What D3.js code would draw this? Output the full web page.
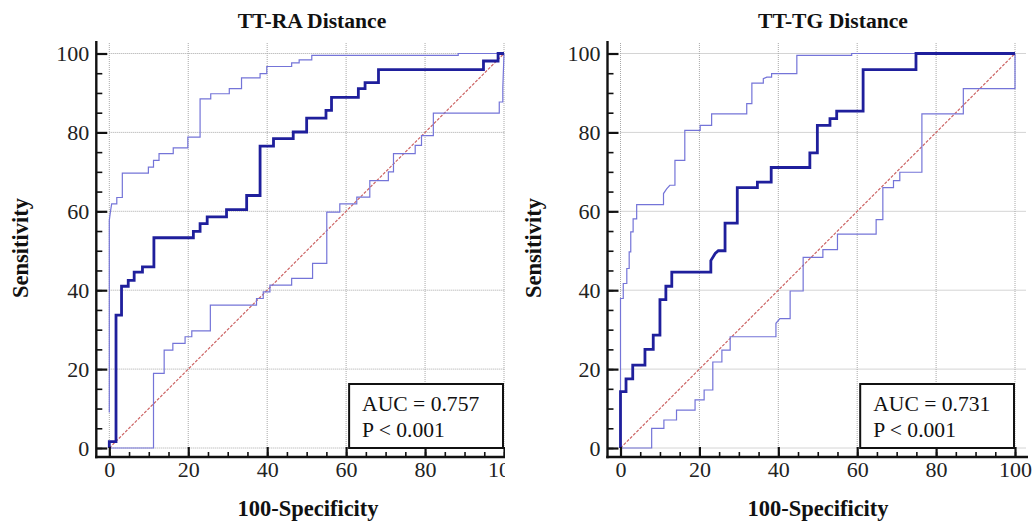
<!DOCTYPE html>
<html><head><meta charset="utf-8">
<script src="https://cdn.jsdelivr.net/npm/d3@7"></script>
<style>body{margin:0;background:#fff}svg{display:block}</style>
</head><body>
<svg id="c" width="1032" height="521"></svg>
<script>
// ---------- data ----------
const panelTitles = ["TT-RA Distance", "TT-TG Distance"];
const aucLabels = ["AUC = 0.757", "AUC = 0.731"];
const pLabels = ["P < 0.001", "P < 0.001"];
const xTicks = [0, 20, 40, 60, 80, 100];
const yTicks = [0, 20, 40, 60, 80, 100];
const xTitle = "100-Specificity";
const yTitle = "Sensitivity";
const diagonal = [[0, 0], [100, 100]];

// TT-RA: ROC curve and 95% confidence bounds  [100-Specificity, Sensitivity]
const raROC = [[0,0],[0,1.6],[1.7,1.6],[1.7,33.7],[3.1,33.7],[3.1,41.0],[4.8,41.0],[4.8,42.5],[6.3,42.5],[6.3,44.6],[8.4,44.6],[8.4,45.9],[11.3,45.9],[11.3,53.3],[21.3,53.3],[21.3,54.9],[23.0,54.9],[23.0,56.9],[24.8,56.9],[24.8,58.6],[29.7,58.6],[29.7,60.4],[34.8,60.4],[34.8,64.0],[38.2,64.0],[38.2,76.5],[41.6,76.5],[41.6,78.4],[46.6,78.4],[46.6,80.1],[50.0,80.1],[50.0,83.6],[54.9,83.6],[54.9,85.6],[56.3,85.6],[56.3,88.9],[63.1,88.9],[63.1,91.1],[64.8,91.1],[64.8,92.6],[68.2,92.6],[68.2,95.9],[94.8,95.9],[94.8,98.1],[98.5,98.1],[98.5,100],[100,100]];
const raUpper = [[0,9],[0,57.7],[0.3,60.0],[0.6,61.9],[1.9,61.9],[1.9,63.5],[3.3,63.5],[3.3,69.7],[9.9,69.7],[9.9,71.2],[11.2,71.2],[11.2,72.9],[12.6,72.9],[12.6,74.6],[16.2,74.6],[16.2,76.1],[19.9,76.1],[19.9,78.8],[23.0,78.8],[23.0,88.5],[25.7,88.5],[25.7,89.8],[30.4,89.8],[30.4,91.1],[33.5,91.1],[33.5,93.8],[38.2,93.8],[38.2,94.9],[39.9,94.9],[39.9,96.7],[46.2,96.7],[46.2,97.6],[48.1,97.6],[48.1,98.4],[51.3,98.4],[51.3,99.5],[88.4,99.5],[88.4,100],[100,100]];
const raLower = [[0,0],[11.2,0],[11.2,18.9],[13.9,18.9],[13.9,24.8],[16.1,24.8],[16.1,26.5],[19.2,26.5],[19.2,28.2],[20.9,28.2],[20.9,29.7],[25.6,29.7],[25.6,36.2],[37.3,36.2],[37.3,37.9],[39.0,37.9],[39.0,39.6],[40.7,39.6],[40.7,41.3],[46.2,41.3],[46.2,43.0],[51.5,43.0],[51.5,46.8],[55.1,46.8],[55.1,59.8],[58.4,59.8],[58.4,61.9],[62.7,61.9],[62.7,63.6],[66.0,63.6],[66.0,67.8],[70.7,67.8],[70.7,70.0],[72.0,70.0],[72.0,74.6],[77.5,74.6],[77.5,76.7],[79.1,76.7],[79.1,79.2],[82.1,79.2],[82.1,84.9],[98.8,84.9],[98.8,87.7],[99.7,87.7],[99.7,91.3],[100,100]];

// TT-TG
const tgROC = [[0,0],[0,14.3],[1.4,14.3],[1.4,17.5],[3.1,17.5],[3.1,21.0],[6.2,21.0],[6.2,25.0],[8.3,25.0],[8.3,28.6],[10.0,28.6],[10.0,37.6],[11.5,37.6],[11.5,41.0],[13.0,41.0],[13.0,44.6],[22.9,44.6],[22.9,47.5],[24.0,49.3],[24.8,50.0],[26.5,50.0],[26.5,57.0],[29.6,57.0],[29.6,66.0],[34.7,66.0],[34.7,67.4],[38.2,67.4],[38.2,71.1],[48.0,71.1],[48.0,74.8],[49.9,74.8],[49.9,81.8],[53.1,81.8],[53.1,83.5],[54.8,83.5],[54.8,85.4],[61.5,85.4],[61.5,95.9],[74.9,95.9],[74.9,100],[100,100]];
const tgUpper = [[0,0],[0,37.9],[0.7,37.9],[0.7,41.7],[1.6,41.7],[1.6,45.5],[2.2,45.5],[2.2,49.7],[2.6,49.7],[2.6,54.8],[3.2,54.8],[3.2,58.1],[4.1,58.1],[4.1,61.7],[10.9,61.7],[10.9,64.5],[11.7,65.7],[12.5,66.6],[13.8,66.6],[13.8,72.9],[16.3,72.9],[16.3,80.5],[20.2,80.5],[20.2,81.8],[23.1,81.8],[23.1,84.7],[32.0,84.7],[32.0,87.3],[33.3,87.3],[33.3,92.5],[36.2,92.5],[36.2,93.6],[37.1,94.0],[38.3,94.0],[38.3,94.9],[44.7,94.9],[44.7,99.5],[58.6,99.5],[58.6,100],[100,100]];
const tgLower = [[0,0],[7.9,0],[7.9,5.0],[11.0,5.0],[11.0,7.1],[14.2,7.1],[14.2,9.6],[18.9,9.6],[18.9,12.2],[21.2,12.2],[21.2,14.7],[23.4,14.7],[23.4,21.8],[25.7,21.8],[25.7,24.8],[27.8,24.8],[27.8,28.2],[39.4,28.2],[39.4,31.6],[40.4,32.8],[43.0,32.8],[43.0,39.8],[46.3,39.8],[46.3,48.3],[51.3,48.3],[51.3,50.3],[55.0,50.3],[55.0,54.2],[64.8,54.2],[64.8,57.9],[66.5,57.9],[66.5,66.0],[69.2,66.0],[69.2,67.8],[70.8,67.8],[70.8,69.9],[76.4,69.9],[76.4,84.7],[86.9,84.7],[86.9,91.1],[100,91.1],[100,100]];

// ---------- drawing ----------
const svg = d3.select("#c");
const FONT = "'Liberation Serif','Times New Roman',serif";
const C_MAIN = "#1f1f9c", C_CI = "#7474d8", C_DIAG = "#cc6464", C_GRID = "#a8a8a8";

const panels = [
  {px0: 109.3, px1: 504, title: panelTitles[0], titleX: 312, xTitleX: 308, yTitleX: 20, roc: raROC, up: raUpper, lo: raLower, auc: aucLabels[0], p: pLabels[0], clip: [0, 505]},
  {px0: 620.5, px1: 1015, title: panelTitles[1], titleX: 833, xTitleX: 818, yTitleX: 533, roc: tgROC, up: tgUpper, lo: tgLower, auc: aucLabels[1], p: pLabels[1], clip: [512, 1032]}
];

const defs = svg.append("defs");

panels.forEach((P, i) => {
  defs.append("clipPath").attr("id", "clip" + i)
    .append("rect").attr("x", P.clip[0]).attr("y", 0).attr("width", P.clip[1] - P.clip[0]).attr("height", 521);
  const g = svg.append("g").attr("clip-path", `url(#clip${i})`);
  const x = d3.scaleLinear().domain([0, 100]).range([P.px0, P.px1]);
  const y = d3.scaleLinear().domain([0, 100]).range([448, 53.5]);
  const axisX = P.px0 - 13;      // y-axis line position
  const axisY = 457;             // x-axis line position
  const right = P.px1 + 11;
  const top = 41;

  // grid
  g.append("g").selectAll("line.h").data(yTicks).join("line")
    .attr("x1", x(0)).attr("x2", right).attr("y1", d => y(d)).attr("y2", d => y(d))
    .attr("stroke", C_GRID).attr("stroke-width", 1).attr("stroke-dasharray", "1,1");
  g.append("g").selectAll("line.v").data(xTicks).join("line")
    .attr("x1", d => x(d)).attr("x2", d => x(d)).attr("y1", top + 2).attr("y2", y(0))
    .attr("stroke", C_GRID).attr("stroke-width", 1).attr("stroke-dasharray", "1,1");

  const line = d3.line().x(d => x(d[0])).y(d => y(d[1]));
  g.append("path").attr("d", line(diagonal)).attr("fill", "none")
    .attr("stroke", C_DIAG).attr("stroke-width", 1.2).attr("stroke-dasharray", "3,1.5");
  g.append("path").attr("d", line(P.lo)).attr("fill", "none").attr("stroke", C_CI).attr("stroke-width", 1.2);
  g.append("path").attr("d", line(P.up)).attr("fill", "none").attr("stroke", C_CI).attr("stroke-width", 1.2);
  g.append("path").attr("d", line(P.roc)).attr("fill", "none").attr("stroke", C_MAIN).attr("stroke-width", 2.8);

  // AUC box
  const bx = x(60) + 3, bw = x(100) - bx - 1;
  g.append("rect").attr("x", bx).attr("y", 384).attr("width", bw).attr("height", y(0) - 384)
    .attr("fill", "#fff").attr("stroke", "#111").attr("stroke-width", 2);
  g.append("text").attr("x", bx + 13).attr("y", 411).text(P.auc)
    .attr("font-family", FONT).attr("font-size", 21.6).attr("fill", "#111");
  g.append("text").attr("x", bx + 13).attr("y", 437).text(P.p)
    .attr("font-family", FONT).attr("font-size", 21.6).attr("fill", "#111");

  // y axis
  const yMinor = d3.range(0, 101, 5);
  const ya = g.append("g").attr("transform", `translate(${axisX},0)`)
    .call(d3.axisLeft(y).tickValues(yMinor).tickSizeInner(-6).tickSizeOuter(0).tickFormat(""));
  ya.select(".domain").remove();
  ya.selectAll("line").attr("stroke", "#111").attr("stroke-width", 1.6);
  const yA = g.append("g").attr("transform", `translate(${axisX},0)`)
    .call(d3.axisLeft(y).tickValues(yTicks).tickSizeInner(-11).tickSizeOuter(0).tickPadding(7));
  yA.select(".domain").remove();
  yA.selectAll("line").attr("stroke", "#111").attr("stroke-width", 2.2);
  yA.selectAll("text").attr("font-family", FONT).attr("font-size", 22).attr("fill", "#222");
  g.append("line").attr("x1", axisX).attr("x2", axisX).attr("y1", top).attr("y2", axisY + 1.2)
    .attr("stroke", "#111").attr("stroke-width", 2.4);

  // x axis
  const xMinor = d3.range(0, 101, 5);
  const xa = g.append("g").attr("transform", `translate(0,${axisY})`)
    .call(d3.axisBottom(x).tickValues(xMinor).tickSizeInner(-5).tickSizeOuter(0).tickFormat(""));
  xa.select(".domain").remove();
  xa.selectAll("line").attr("stroke", "#111").attr("stroke-width", 1.6);
  const xA = g.append("g").attr("transform", `translate(0,${axisY})`)
    .call(d3.axisBottom(x).tickValues(xTicks).tickSizeInner(-10).tickSizeOuter(0).tickPadding(4));
  xA.select(".domain").remove();
  xA.selectAll("line").attr("stroke", "#111").attr("stroke-width", 2.2);
  xA.selectAll("text").attr("font-family", FONT).attr("font-size", 22).attr("fill", "#222");
  g.append("line").attr("x1", axisX - 1.2).attr("x2", right + 2).attr("y1", axisY).attr("y2", axisY)
    .attr("stroke", "#111").attr("stroke-width", 2.4);

  // titles
  g.append("text").attr("x", P.titleX).attr("y", 28).attr("text-anchor", "middle").text(P.title)
    .attr("font-family", FONT).attr("font-weight", "bold").attr("font-size", 21.6).attr("fill", "#111");
  g.append("text").attr("x", P.xTitleX).attr("y", 516).attr("text-anchor", "middle").text(xTitle)
    .attr("font-family", FONT).attr("font-weight", "bold").attr("font-size", 22.5).attr("fill", "#111");
  g.append("text").attr("transform", `translate(${P.yTitleX},248) rotate(-90)`)
    .attr("text-anchor", "middle").attr("dy", "0.35em").text(yTitle)
    .attr("font-family", FONT).attr("font-weight", "bold").attr("font-size", 22.5).attr("fill", "#111");
});
</script>
</body></html>
